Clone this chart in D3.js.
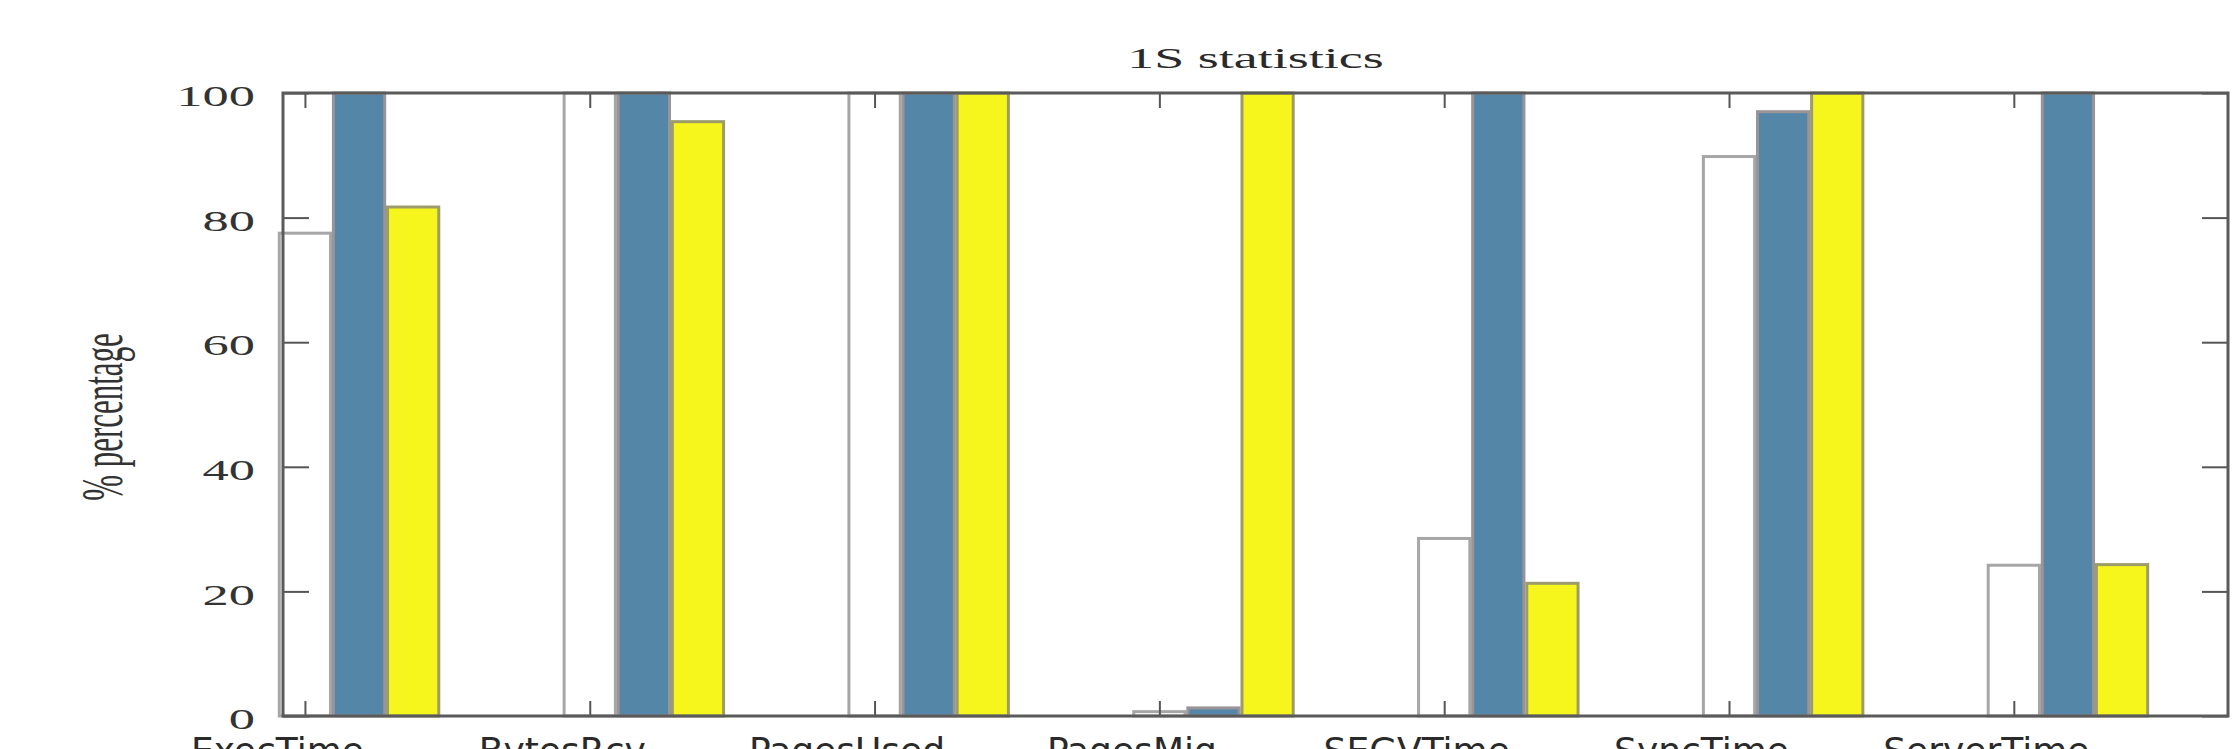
<!DOCTYPE html>
<html>
<head>
<meta charset="utf-8">
<script src="https://cdn.jsdelivr.net/npm/d3@7"></script>
<style>
  body { margin: 0; background: #fff; overflow: hidden; }
  svg { display: block; }
</style>
</head>
<body>
<div id="chart"></div>
<script>
// values (percent)
var categories = ["ExecTime", "BytesRcv", "PagesUsed", "PagesMig", "SEGVTime", "SyncTime", "ServerTime"];
var whiteSeries = [77.5, 100, 100, 0.7, 28.5, 89.8, 24.2];
var blueSeries = [100, 100, 100, 1.3, 100, 97.0, 100];
var yellowSeries = [81.7, 95.4, 100, 100, 21.3, 100, 24.3];
var emptySeries = [0, 0, 0, 0, 0, 0, 0];
var yTicks = [0, 20, 40, 60, 80, 100];

var W = 2234, H = 749;
// careful: "top" is taken by window.top, so prefix everything
var plotLeft = 283, plotRight = 2228, plotTop = 93, plotBottom = 716;
var stretch = 1.75; // the picture is squeezed wide, text too

var svg = d3.select("#chart").append("svg")
    .attr("width", W)
    .attr("height", H);

var x = d3.scaleLinear().domain([-0.077, 6.752]).range([plotLeft, plotRight]);
var y = d3.scaleLinear().domain([0, 100]).range([plotBottom, plotTop]);

var barW = x(0.18) - x(0);

var series = [
  { values: whiteSeries, slot: 0, fill: "#ffffff", stroke: "#a6a6a6", sw: 3 },
  { values: blueSeries, slot: 1, fill: "#5487a7", stroke: "#9a9398", sw: 3 },
  { values: yellowSeries, slot: 2, fill: "#f6f61c", stroke: "#9c9c6a", sw: 3 },
  // last column is empty, only its outline on the baseline shows
  { values: emptySeries, slot: 3.5, fill: "none", stroke: "#262626", sw: 4 }
];

var plot = svg.append("g");

series.forEach(function(s) {
  plot.selectAll(null)
    .data(s.values)
    .enter()
    .append("rect")
    .attr("x", function(d, i) { return x(i + s.slot * 0.19) - barW / 2; })
    .attr("y", function(d) { return y(d); })
    .attr("width", barW)
    .attr("height", function(d) { return y(0) - y(d); })
    .attr("fill", s.fill)
    .attr("stroke", s.stroke)
    .attr("stroke-width", s.sw);
});

// axes, ticks point inwards like gnuplot
var idx = d3.range(categories.length);

var xAxis = svg.append("g")
    .attr("transform", "translate(0," + plotBottom + ")")
    .call(d3.axisBottom(x).tickValues(idx).tickSizeInner(-15).tickSizeOuter(0)
      .tickPadding(21).tickFormat(function(i) { return categories[i]; }));

xAxis.selectAll("text")
    .attr("x", -28)
    .attr("fill", "#2a2a2a")
    .style("font-family", "DejaVu Sans")
    .style("font-size", "36px");

svg.append("g")
    .attr("transform", "translate(0," + plotTop + ")")
    .call(d3.axisTop(x).tickValues(idx).tickSizeInner(-15).tickSizeOuter(0).tickFormat(""));

var yAxis = svg.append("g")
    .attr("transform", "translate(" + plotLeft + ",0)")
    .call(d3.axisLeft(y).tickValues(yTicks).tickSizeInner(-26).tickSizeOuter(0)
      .tickPadding(28 / stretch));

yAxis.selectAll("text")
    .attr("transform", "scale(" + stretch + ",1)")
    .attr("dy", "0.42em")
    .attr("fill", "#333")
    .style("font-family", "Liberation Serif")
    .style("font-size", "30px");

svg.append("g")
    .attr("transform", "translate(" + plotRight + ",0)")
    .call(d3.axisRight(y).tickValues(yTicks).tickSizeInner(-26).tickSizeOuter(0).tickFormat(""));

svg.selectAll(".domain").remove();
svg.selectAll(".tick line")
    .attr("stroke", "#555")
    .attr("stroke-width", 2);

// frame
svg.append("rect")
    .attr("x", plotLeft)
    .attr("y", plotTop)
    .attr("width", plotRight - plotLeft)
    .attr("height", plotBottom - plotTop)
    .attr("fill", "none")
    .attr("stroke", "#5a5a5a")
    .attr("stroke-width", 3);

// title
svg.append("text")
    .attr("transform", "translate(" + ((plotLeft + plotRight) / 2) + ",68) scale(1.8,1)")
    .attr("text-anchor", "middle")
    .attr("fill", "#2a2a2a")
    .style("font-family", "Liberation Serif")
    .style("font-size", "30px")
    .text("1S statistics");

// y label, baseline faces the axis
svg.append("text")
    .attr("transform", "translate(122,417) rotate(-90) scale(1,1.9)")
    .attr("text-anchor", "middle")
    .attr("fill", "#333")
    .style("font-family", "Liberation Serif")
    .style("font-size", "31px")
    .text("% percentage");
</script>
</body>
</html>
